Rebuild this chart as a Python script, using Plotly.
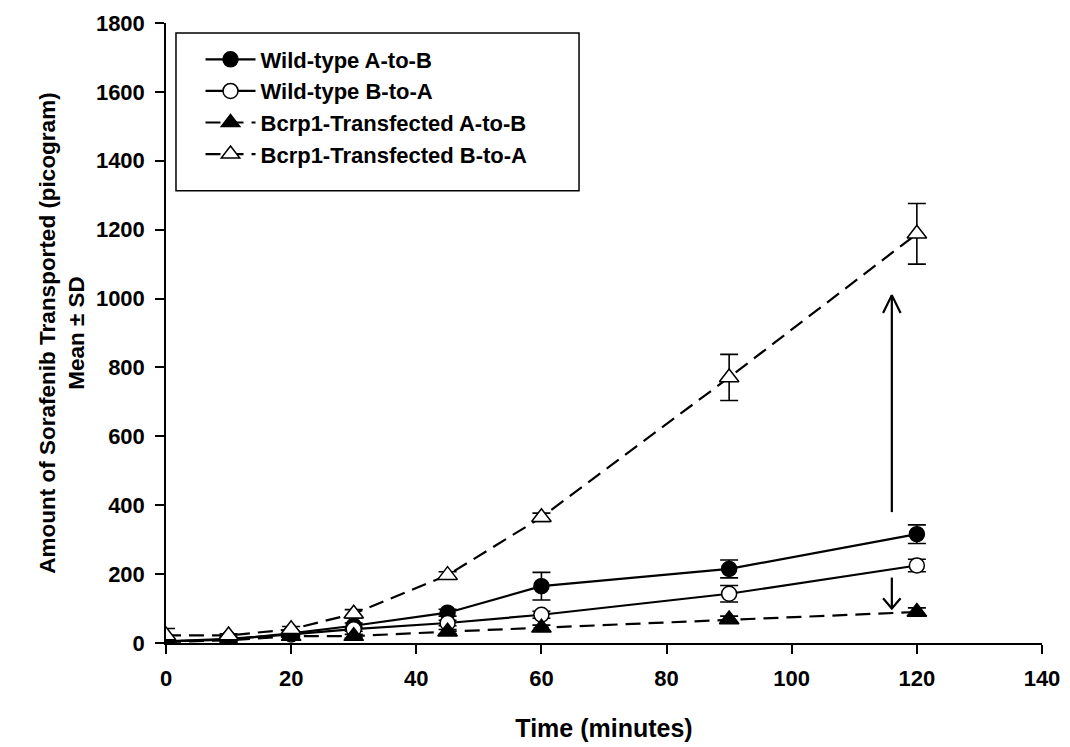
import plotly.graph_objects as go

# Sampling times (minutes)
time_min = [0, 10, 20, 30, 45, 60, 90, 120]

# Amount transported (picogram), mean and SD per series
wt_ab_mean = [5, 10, 28, 50, 88, 165, 215, 316]
wt_ab_sd = [4, 3, 6, 8, 10, 40, 26, 27]

wt_ba_mean = [5, 12, 25, 40, 58, 82, 143, 225]
wt_ba_sd = [3, 3, 5, 6, 8, 10, 24, 18]

tr_ab_mean = [3, 8, 20, 20, 33, 44, 68, 90]
tr_ab_sd = [3, 3, 4, 5, 6, 8, 10, 12]

tr_ba_mean = [22, 22, 40, 85, 197, 365, 771, 1188]
tr_ba_sd = [20, 5, 8, 12, 10, 12, 67, 88]

# Efflux arrows at t ~ 116 min: (x, y_start, y_end)
arrow_up = (116, 380, 1010)
arrow_down = (116, 190, 100)

FONT = "Liberation Sans, Arial, sans-serif"

fig = go.Figure()


def add_series(name, y, sd, symbol, fill, dash):
    fig.add_trace(go.Scatter(
        x=time_min, y=y, name=name, mode="lines+markers",
        line=dict(color="black", width=2.2, dash=dash),
        marker=dict(symbol=symbol, size=15 if "circle" in symbol else 17,
                    color=fill, line=dict(color="black", width=1.5)),
        error_y=dict(type="data", array=sd, visible=True, color="black",
                     thickness=1.6, width=9),
    ))


add_series("Wild-type A-to-B", wt_ab_mean, wt_ab_sd, "circle", "black", "solid")
add_series("Wild-type B-to-A", wt_ba_mean, wt_ba_sd, "circle", "white", "solid")
add_series("Bcrp1-Transfected A-to-B", tr_ab_mean, tr_ab_sd, "triangle-up", "black", "15px,8px")
add_series("Bcrp1-Transfected B-to-A", tr_ba_mean, tr_ba_sd, "triangle-up", "white", "15px,8px")


def add_arrow(x, y0, y1):
    # shaft plus an open V head at y1
    head_dx = 1.4
    head_dy = 52 if y1 > y0 else -30
    fig.add_trace(go.Scatter(
        x=[x, x, None, x - head_dx, x, x + head_dx],
        y=[y0, y1, None, y1 - head_dy, y1, y1 - head_dy],
        mode="lines", line=dict(color="black", width=2.2),
        showlegend=False, hoverinfo="skip",
    ))


add_arrow(*arrow_up)
add_arrow(*arrow_down)

axis_common = dict(
    showline=True, linecolor="black", linewidth=1.5,
    ticks="outside", ticklen=9, tickwidth=1.5, tickcolor="black",
    showgrid=False, zeroline=False, automargin=False,
    tickfont=dict(family=FONT, size=22, color="black", weight="bold"),
)

# legend frame
fig.add_shape(type="rect", xref="paper", yref="paper",
              x0=0.0114, x1=0.4715, y0=0.7295, y1=0.984,
              line=dict(color="black", width=1.5), fillcolor="white", layer="below")

fig.update_layout(
    width=1070, height=747,
    margin=dict(l=166, r=28, t=23, b=104),
    paper_bgcolor="white", plot_bgcolor="white",
    font=dict(family=FONT, color="black"),
    xaxis=dict(range=[0, 140], tickvals=list(range(0, 141, 20)),
               ticklabelstandoff=6,
               title=dict(text="<b>Time (minutes)</b>", standoff=29,
                          font=dict(family=FONT, size=25, color="black")),
               **axis_common),
    yaxis=dict(range=[0, 1800], tickvals=list(range(0, 1801, 200)),
               ticklabelstandoff=6,
               title=dict(text="<b>Amount of Sorafenib Transported (picogram)<br>Mean ± SD</b>",
                          standoff=5,
                          font=dict(family=FONT, size=22.5, color="black")),
               **axis_common),
    legend=dict(x=0.0394, y=0.975, xanchor="left", yanchor="top",
                bgcolor="rgba(0,0,0,0)", borderwidth=0,
                font=dict(family=FONT, size=22, color="black", weight="bold"),
                itemwidth=50, tracegroupgap=0),
    showlegend=True,
)

fig.write_html("out.html")
